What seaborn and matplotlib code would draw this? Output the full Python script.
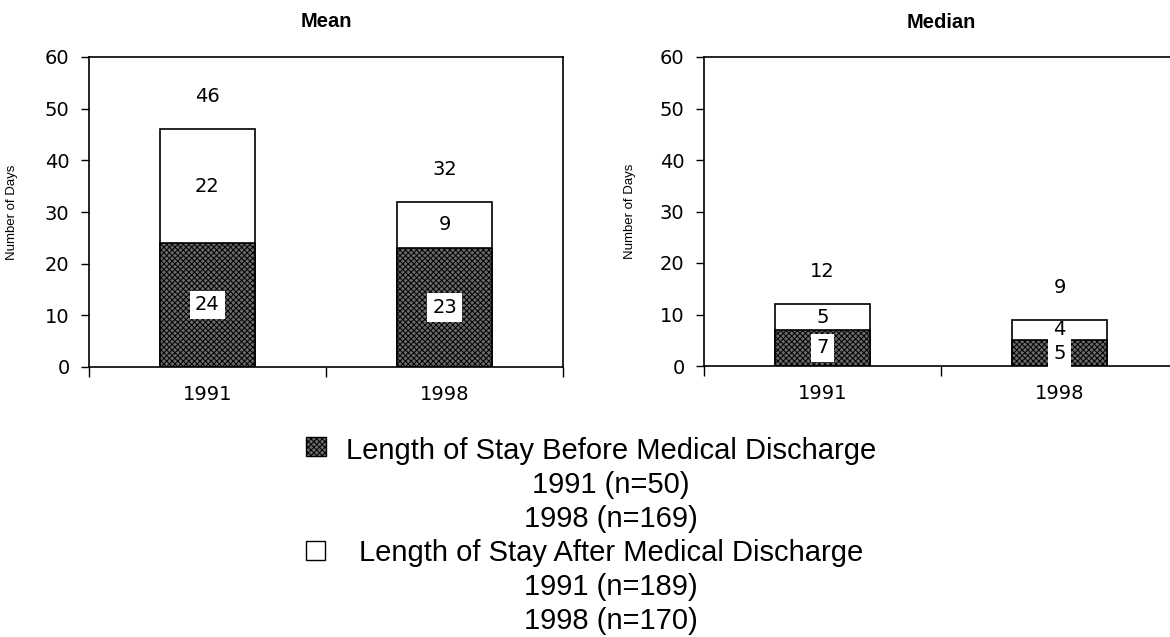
import matplotlib
matplotlib.use("Agg")
import matplotlib.pyplot as plt
import seaborn as sns
import pandas as pd
from matplotlib.patches import Rectangle
from matplotlib.ticker import FixedLocator

# ---- data -------------------------------------------------------------
years = ["1991", "1998"]
mean_before = [24, 23]
mean_after = [22, 9]
median_before = [7, 5]
median_after = [5, 4]
panel_titles = ["Mean", "Median"]
y_ticks = [0, 10, 20, 30, 40, 50, 60]
y_label = "Number of Days"
legend_before = ["Length of Stay Before Medical Discharge", "1991 (n=50)", "1998 (n=169)"]
legend_after = ["Length of Stay After Medical Discharge", "1991 (n=189)", "1998 (n=170)"]

# ---- style ------------------------------------------------------------
sns.set_theme(style="ticks")
plt.rcParams["font.family"] = ["DejaVu Sans"]
plt.rcParams["hatch.linewidth"] = 0.7
for key in ("text.color", "axes.labelcolor", "xtick.color", "ytick.color", "axes.edgecolor"):
    plt.rcParams[key] = "black"

DARK = "#6a6a6a"
NUM_FONT = 14
W, H = 1170, 637

fig = plt.figure(figsize=(W / 100, H / 100), dpi=100)
fig.patch.set_facecolor("white")


def fig_rect(x0, y_top, x1, y_bot):
    return [x0 / W, 1 - y_bot / H, (x1 - x0) / W, (y_bot - y_top) / H]


ax_mean = fig.add_axes(fig_rect(89, 57, 563, 367))
ax_med = fig.add_axes(fig_rect(704, 57, 1178, 366))


def draw_panel(ax, before, after, title, ylabel_x):
    totals = [b + a for b, a in zip(before, after)]
    df = pd.DataFrame({"year": years, "total": totals, "before": before})
    sns.barplot(data=df, x="year", y="total", color="white", edgecolor="black",
                linewidth=1.2, width=0.4, saturation=1, ax=ax)
    sns.barplot(data=df, x="year", y="before", color=DARK, edgecolor="black",
                linewidth=1.2, width=0.4, saturation=1, ax=ax)
    for p in ax.patches[len(years):]:
        p.set_hatch("xxxxxx")

    for i, (b, a, t) in enumerate(zip(before, after, totals)):
        ax.text(i, t + 6.3, str(t), ha="center", va="center", fontsize=NUM_FONT)
        ax.text(i, b + a / 2, str(a), ha="center", va="center", fontsize=NUM_FONT)
        ax.text(i, b / 2, str(b), ha="center", va="center", fontsize=NUM_FONT,
                bbox=dict(boxstyle="square,pad=0.25", fc="white", ec="none"))

    ax.set_xlim(-0.5, len(years) - 0.5)
    ax.set_ylim(0, 60)
    ax.set_yticks(y_ticks)
    ax.set_xlabel("")
    ax.set_ylabel(y_label, fontsize=9.5, family=["Liberation Sans", "DejaVu Sans"])
    ax.yaxis.set_label_coords(ylabel_x, 0.5)
    ax.xaxis.set_minor_locator(FixedLocator([-0.5, 0.5, 1.5]))
    ax.tick_params(axis="x", which="major", length=0, pad=13, labelsize=NUM_FONT)
    ax.tick_params(axis="x", which="minor", length=7, width=1, direction="out")
    ax.tick_params(axis="y", length=6, width=1, pad=8, labelsize=NUM_FONT)
    for s in ax.spines.values():
        s.set_visible(True)
        s.set_linewidth(1.2)
        s.set_color("black")
    ax.text(0.5, 1.113, title, transform=ax.transAxes, ha="center", va="center",
            fontsize=14.5, fontweight="bold", family=["Liberation Sans", "DejaVu Sans"])


draw_panel(ax_mean, mean_before, mean_after, panel_titles[0], -0.15)
draw_panel(ax_med, median_before, median_after, panel_titles[1], -0.143)

# ---- legend block -----------------------------------------------------
LEG_FONT = ["Liberation Sans", "DejaVu Sans"]
baselines = [459, 493, 527, 561, 595, 629]
for y, line in zip(baselines, legend_before + legend_after):
    fig.text(611 / W, 1 - y / H, line, ha="center", va="baseline",
             fontsize=21, family=LEG_FONT)

fig.patches.append(Rectangle((306 / W, 1 - 456 / H), 20 / W, 19 / H,
                             transform=fig.transFigure, facecolor=DARK,
                             edgecolor="black", hatch="xxxxxx", linewidth=1))
fig.patches.append(Rectangle((306 / W, 1 - 560 / H), 19 / W, 19 / H,
                             transform=fig.transFigure, facecolor="white",
                             edgecolor="black", linewidth=1))

fig.savefig("out.png", dpi=100, facecolor="white")
